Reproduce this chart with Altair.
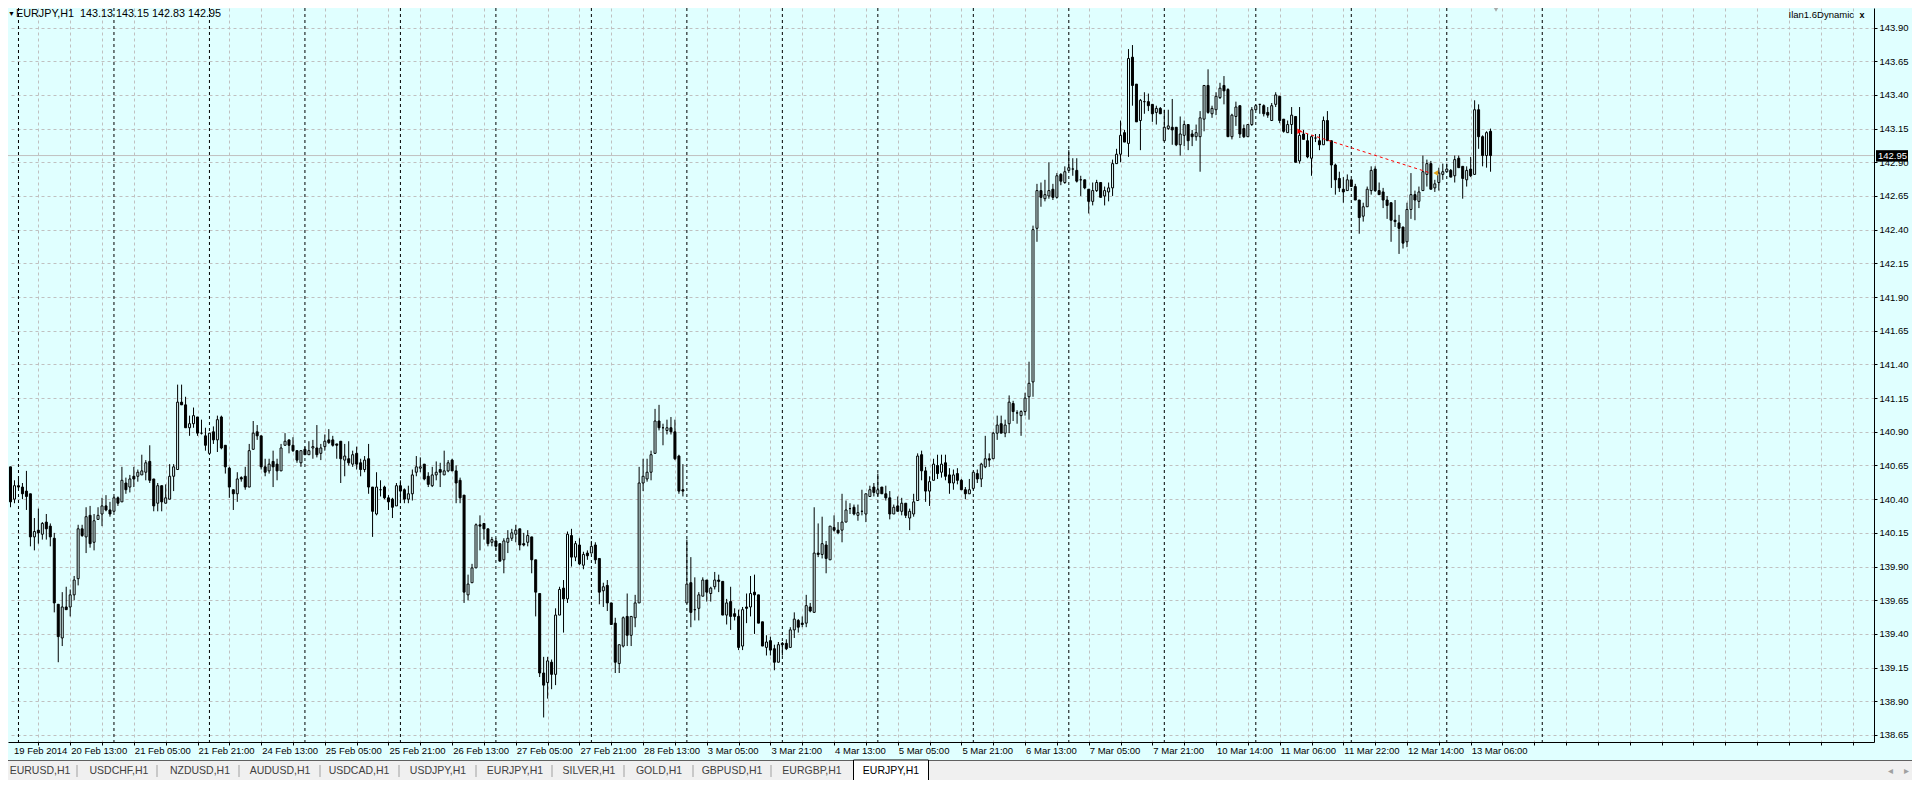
import altair as alt
import pandas as pd

# ---------------- data ----------------
opens = [
140.47,140.64,140.40,140.50,140.49,140.46,140.44,140.12,140.17,140.14,
140.23,140.20,140.11,139.62,139.37,139.60,139.60,139.69,139.81,140.18,
140.12,140.28,140.08,140.25,140.29,140.35,140.32,140.31,140.41,140.38,
140.52,140.49,140.57,140.57,140.58,140.60,140.68,140.55,140.37,140.50,
140.37,140.40,140.57,140.62,141.12,141.10,140.93,140.96,141.01,140.89,
140.87,140.74,140.90,140.84,141.01,140.80,140.63,140.47,140.44,140.56,
140.57,140.49,140.77,140.90,140.87,140.64,140.61,140.68,140.66,140.61,
140.80,140.84,140.80,140.76,140.67,140.77,140.73,140.78,140.78,140.74,
140.79,140.84,140.84,140.81,140.83,140.69,140.70,140.66,140.74,140.67,
140.62,140.70,140.49,140.29,140.47,140.49,140.41,140.40,140.35,140.50,
140.47,140.40,140.44,140.60,140.63,140.66,140.57,140.50,140.58,140.62,
140.58,140.61,140.69,140.61,140.54,140.43,139.69,139.78,139.89,140.21,
140.22,140.18,140.08,140.09,140.07,139.95,140.08,140.11,140.14,140.18,
140.07,140.08,140.12,139.95,139.70,139.11,139.04,139.19,139.10,139.54,
139.74,139.66,140.13,139.97,140.06,139.91,140.00,140.00,140.06,139.96,
139.72,139.76,139.63,139.48,139.18,139.31,139.53,139.39,139.52,139.63,
140.52,140.55,140.60,140.74,140.98,140.93,140.91,140.93,140.90,140.72,
140.47,139.63,139.78,139.58,139.59,139.68,139.80,139.70,139.75,139.80,
139.79,139.54,139.64,139.55,139.53,139.31,139.60,139.60,139.71,139.69,
139.49,139.30,139.35,139.29,139.19,139.33,139.33,139.30,139.43,139.50,
139.48,139.48,139.60,139.56,140.00,139.99,140.06,139.95,140.19,140.17,
140.17,140.23,140.33,140.34,140.28,140.31,140.29,140.42,140.49,140.44,
140.49,140.44,140.41,140.29,140.35,140.31,140.37,140.26,140.29,140.39,
140.73,140.61,140.46,140.54,140.65,140.60,140.67,140.58,140.52,140.59,
140.54,140.47,140.44,140.48,140.59,140.55,140.64,140.70,140.70,140.89,
140.96,140.89,140.96,141.11,141.04,141.02,141.05,141.16,141.27,142.41,
142.69,142.63,142.65,142.70,142.64,142.81,142.75,142.84,142.85,142.84,
142.77,142.77,142.70,142.61,142.69,142.75,142.65,142.68,142.71,142.89,
142.96,143.12,143.04,143.68,143.48,143.21,143.35,143.35,143.33,143.27,
143.30,143.06,143.15,143.16,143.16,143.03,143.10,143.18,143.11,143.09,
143.09,143.22,143.47,143.26,143.29,143.38,143.47,143.44,143.09,143.24,
143.32,143.15,143.09,143.18,143.29,143.33,143.32,143.27,143.21,143.33,
143.39,143.22,143.12,143.18,143.24,142.91,143.11,143.06,142.93,143.08,
143.06,143.03,143.21,143.06,142.88,142.78,142.70,142.69,142.77,142.72,
142.62,142.50,142.57,142.69,142.85,142.69,142.68,142.62,142.60,142.47,
142.45,142.42,142.31,142.55,142.66,142.61,142.69,142.81,142.89,142.71,
142.75,142.81,142.83,142.84,142.80,142.93,142.87,142.77,142.85,142.81,
143.29,143.09,142.95,143.13]

highs = [
140.78,140.64,140.54,140.57,140.52,140.61,140.44,140.26,140.33,140.23,
140.29,140.22,140.15,139.62,139.71,139.75,139.73,139.83,140.21,140.21,
140.34,140.35,140.29,140.34,140.41,140.43,140.38,140.42,140.42,140.64,
140.56,140.58,140.64,140.62,140.73,140.69,140.80,140.55,140.52,140.50,
140.51,140.66,140.66,141.25,141.25,141.16,141.02,141.08,141.01,140.99,
140.93,140.89,140.94,141.02,141.02,140.80,140.64,140.47,140.60,140.57,
140.64,140.81,140.98,140.95,140.87,140.70,140.70,140.76,140.70,140.81,
140.89,140.84,140.86,140.76,140.76,140.79,140.83,140.84,140.95,140.81,
140.88,140.92,140.87,140.81,140.83,140.81,140.83,140.76,140.79,140.70,
140.72,140.81,140.49,140.60,140.54,140.50,140.43,140.41,140.52,140.54,
140.48,140.50,140.62,140.72,140.71,140.66,140.60,140.64,140.68,140.67,
140.76,140.69,140.70,140.65,140.56,140.43,139.84,139.92,140.22,140.28,
140.22,140.18,140.12,140.11,140.07,140.11,140.17,140.18,140.21,140.18,
140.15,140.17,140.12,139.95,139.70,139.23,139.23,139.21,139.59,139.75,
139.80,140.16,140.18,140.09,140.11,140.01,140.02,140.09,140.08,139.96,
139.78,139.80,139.63,139.52,139.32,139.53,139.70,139.53,139.69,140.64,
140.70,140.70,140.76,141.07,141.10,140.96,140.99,141.01,140.99,140.73,
140.66,140.10,139.97,139.82,139.71,139.82,139.80,139.75,139.86,139.84,
139.79,139.66,139.75,139.59,139.58,139.60,139.70,139.83,139.84,139.69,
139.49,139.39,139.38,139.32,139.34,139.34,139.36,139.45,139.56,139.51,
139.53,139.69,139.63,140.34,140.22,140.27,140.09,140.20,140.28,140.23,
140.44,140.39,140.37,140.36,140.36,140.47,140.44,140.50,140.52,140.59,
140.49,140.50,140.46,140.36,140.42,140.41,140.37,140.33,140.44,140.74,
140.76,140.64,140.57,140.70,140.73,140.73,140.73,140.63,140.62,140.63,
140.55,140.49,140.55,140.60,140.62,140.67,140.87,140.74,140.90,141.02,
141.02,140.99,141.17,141.13,141.06,141.06,141.19,141.42,142.43,142.74,
142.75,142.77,142.90,142.74,142.82,142.82,142.87,142.99,142.93,142.93,
142.80,142.77,142.70,142.75,142.77,142.75,142.72,142.75,142.92,143.00,
143.21,143.14,143.74,143.77,143.48,143.37,143.42,143.41,143.33,143.32,
143.31,143.29,143.29,143.37,143.16,143.24,143.21,143.18,143.14,143.18,
143.28,143.47,143.59,143.32,143.42,143.49,143.54,143.45,143.26,143.35,
143.32,143.18,143.18,143.31,143.33,143.33,143.33,143.31,143.34,143.42,
143.39,143.22,143.21,143.31,143.24,143.31,143.14,143.11,143.10,143.11,
143.11,143.24,143.28,143.06,142.89,142.83,142.79,142.81,142.77,142.74,
142.62,142.60,142.72,142.87,142.87,142.75,142.71,142.65,142.60,142.62,
142.51,142.42,142.60,142.82,142.69,142.72,142.95,142.92,142.91,142.77,
142.86,142.89,142.89,142.85,142.95,142.95,142.87,142.87,142.94,143.36,
143.33,143.10,143.13,143.15]

lows = [
140.45,140.34,140.37,140.47,140.40,140.32,140.05,140.02,140.07,140.10,
140.10,140.05,139.56,139.19,139.31,139.58,139.53,139.65,139.76,140.12,
140.00,140.04,140.02,140.25,140.20,140.31,140.27,140.31,140.35,140.38,
140.44,140.45,140.49,140.53,140.58,140.54,140.52,140.31,140.31,140.31,
140.37,140.40,140.46,140.62,141.10,140.93,140.87,140.93,140.87,140.88,
140.76,140.74,140.81,140.75,140.77,140.59,140.41,140.32,140.38,140.53,
140.47,140.49,140.77,140.84,140.62,140.57,140.59,140.49,140.54,140.61,
140.80,140.74,140.75,140.67,140.64,140.73,140.73,140.70,140.71,140.69,
140.76,140.81,140.79,140.70,140.52,140.57,140.65,140.64,140.62,140.57,
140.60,140.44,140.12,140.28,140.42,140.40,140.32,140.26,140.35,140.37,
140.37,140.37,140.39,140.57,140.60,140.54,140.49,140.49,140.54,140.49,
140.58,140.60,140.61,140.37,140.37,139.63,139.65,139.78,139.89,140.02,
140.10,140.05,140.05,140.02,139.94,139.85,140.00,140.09,140.08,140.02,
140.05,140.05,139.85,139.53,139.08,138.78,138.92,138.99,139.02,139.54,
139.41,139.63,139.90,139.94,139.91,139.88,139.95,140.00,139.92,139.62,
139.60,139.57,139.47,139.11,139.11,139.30,139.31,139.31,139.45,139.63,
140.46,140.53,140.54,140.74,140.91,140.80,140.88,140.88,140.69,140.44,
140.42,139.63,139.45,139.50,139.50,139.68,139.64,139.64,139.73,139.71,
139.54,139.47,139.43,139.50,139.28,139.28,139.48,139.53,139.40,139.48,
139.31,139.24,139.24,139.13,139.19,139.24,139.28,139.30,139.37,139.41,
139.45,139.45,139.56,139.56,139.97,139.96,139.85,139.95,140.16,140.14,
140.08,140.23,140.29,140.28,140.24,140.28,140.23,140.42,140.42,140.42,
140.44,140.39,140.25,140.29,140.31,140.28,140.26,140.17,140.27,140.39,
140.54,140.38,140.35,140.54,140.55,140.56,140.54,140.44,140.47,140.51,
140.47,140.40,140.44,140.47,140.52,140.49,140.63,140.64,140.70,140.84,
140.89,140.86,140.89,140.98,140.96,140.87,141.02,140.99,141.16,142.31,
142.57,142.61,142.63,142.62,142.63,142.73,142.74,142.84,142.80,142.75,
142.65,142.70,142.52,142.58,142.68,142.64,142.58,142.61,142.65,142.89,
142.90,143.05,142.94,143.32,143.20,142.99,143.26,143.28,143.20,143.18,
143.26,143.06,143.14,143.03,143.02,142.95,143.02,142.99,143.02,143.06,
142.83,143.13,143.26,143.23,143.25,143.37,143.33,143.09,143.07,143.17,
143.08,143.08,143.09,143.17,143.29,143.26,143.24,143.23,143.21,143.31,
143.19,143.12,143.12,143.11,142.90,142.89,143.07,142.93,142.80,143.05,
142.99,143.03,143.06,142.71,142.66,142.68,142.60,142.69,142.72,142.62,
142.37,142.46,142.57,142.66,142.68,142.66,142.56,142.48,142.31,142.42,
142.22,142.26,142.27,142.48,142.47,142.56,142.69,142.72,142.70,142.68,
142.69,142.77,142.83,142.79,142.75,142.86,142.63,142.72,142.79,142.81,
143.00,142.87,142.86,142.83]

closes = [
140.64,140.38,140.50,140.49,140.44,140.42,140.12,140.16,140.15,140.22,
140.18,140.12,139.63,139.38,139.60,139.58,139.69,139.80,140.18,140.13,
140.27,140.07,140.24,140.28,140.35,140.32,140.29,140.41,140.37,140.54,
140.47,140.55,140.55,140.60,140.61,140.67,140.54,140.35,140.50,140.38,
140.41,140.57,140.64,141.12,141.10,140.93,140.96,141.02,140.89,140.89,
140.80,140.89,140.84,140.99,140.78,140.64,140.49,140.44,140.55,140.55,
140.49,140.76,140.89,140.87,140.64,140.60,140.66,140.64,140.61,140.78,
140.83,140.80,140.76,140.69,140.76,140.73,140.76,140.79,140.73,140.78,
140.83,140.82,140.80,140.80,140.70,140.72,140.67,140.73,140.66,140.62,
140.69,140.49,140.31,140.49,140.47,140.41,140.38,140.34,140.50,140.46,
140.40,140.44,140.58,140.64,140.64,140.55,140.51,140.58,140.60,140.60,
140.61,140.67,140.61,140.52,140.41,139.71,139.77,139.89,140.21,140.20,
140.18,140.07,140.10,140.05,139.94,140.09,140.11,140.15,140.17,140.06,
140.06,140.13,139.95,139.71,139.11,139.02,139.20,139.10,139.54,139.73,
139.66,140.14,139.97,140.07,139.92,139.99,139.98,140.05,139.95,139.71,
139.75,139.63,139.47,139.19,139.32,139.52,139.39,139.53,139.63,140.52,
140.57,140.60,140.73,140.98,140.93,140.93,140.93,140.90,140.70,140.46,
140.46,139.77,139.56,139.58,139.69,139.80,139.71,139.74,139.80,139.79,
139.54,139.63,139.53,139.53,139.30,139.58,139.59,139.70,139.69,139.48,
139.31,139.34,139.28,139.19,139.32,139.32,139.29,139.43,139.51,139.45,
139.47,139.61,139.57,140.00,139.99,140.07,139.96,140.20,140.17,140.15,
140.23,140.32,140.33,140.29,140.30,140.31,140.44,140.47,140.45,140.47,
140.44,140.41,140.29,140.34,140.31,140.37,140.28,140.31,140.38,140.72,
140.61,140.46,140.53,140.66,140.59,140.66,140.57,140.52,140.58,140.54,
140.47,140.44,140.47,140.60,140.55,140.66,140.70,140.69,140.89,140.95,
140.89,140.95,141.12,141.05,141.04,141.05,141.15,141.26,142.40,142.69,
142.64,142.66,142.69,142.64,142.80,142.76,142.83,142.86,142.85,142.76,
142.77,142.71,142.61,142.69,142.75,142.64,142.69,142.71,142.89,142.96,
143.10,143.05,143.67,143.47,143.20,143.36,143.35,143.32,143.26,143.30,
143.26,143.16,143.17,143.14,143.03,143.11,143.18,143.06,143.09,143.12,
143.23,143.47,143.27,143.30,143.39,143.45,143.43,143.09,143.25,143.31,
143.11,143.09,143.18,143.29,143.32,143.33,143.26,143.25,143.32,143.40,
143.21,143.13,143.18,143.25,142.90,143.10,143.07,142.94,143.09,143.08,
143.03,143.21,143.06,142.88,142.77,142.71,142.68,142.77,142.72,142.62,
142.49,142.57,142.70,142.84,142.69,142.66,142.62,142.58,142.47,142.46,
142.41,142.30,142.55,142.66,142.62,142.68,142.83,142.89,142.70,142.74,
142.82,142.83,142.85,142.79,142.92,142.86,142.78,142.84,142.80,143.29,
143.09,142.95,143.12,142.95]

# time labels, one every 16 hourly bars
time_labels = ["19 Feb 2014", "20 Feb 13:00", "21 Feb 05:00", "21 Feb 21:00",
               "24 Feb 13:00", "25 Feb 05:00", "25 Feb 21:00", "26 Feb 13:00",
               "27 Feb 05:00", "27 Feb 21:00", "28 Feb 13:00", "3 Mar 05:00",
               "3 Mar 21:00", "4 Mar 13:00", "5 Mar 05:00", "5 Mar 21:00",
               "6 Mar 13:00", "7 Mar 05:00", "7 Mar 21:00", "10 Mar 14:00",
               "11 Mar 06:00", "11 Mar 22:00", "12 Mar 14:00", "13 Mar 06:00"]
# bar index of each day start (period separators)
day_starts = [3, 27, 51, 75, 99, 123, 147, 171, 195, 219, 243, 267, 291, 314, 338, 362, 386]
price_ticks = [143.90, 143.65, 143.40, 143.15, 142.90, 142.65, 142.40, 142.15,
               141.90, 141.65, 141.40, 141.15, 140.90, 140.65, 140.40, 140.15,
               139.90, 139.65, 139.40, 139.15, 138.90, 138.65]
bid_price = [142.95]
trend_bar = [325.05, 357.95]
trend_price = [143.13, 142.82]
tabs = ["EURUSD,H1", "USDCHF,H1", "NZDUSD,H1", "AUDUSD,H1", "USDCAD,H1",
        "USDJPY,H1", "EURJPY,H1", "SILVER,H1", "GOLD,H1", "GBPUSD,H1", "EURGBP,H1"]
active_tab = "EURJPY,H1"
header = "EURJPY,H1\u00a0 143.13 143.15 142.83 142.95"

# ---------------- layout / style ----------------
BG = "#E0FFFF"
GRID = "#C0C0C0"
FONT = "Liberation Sans, Arial, sans-serif"
FS = 9.5
W, H = 1866, 734
X0, X1 = 1.625, 468.125
Y0, Y1 = 138.598, 144.045
tab_centers = [32, 111, 192, 272, 351, 430, 507, 581, 651, 724, 804]
tab_seps = [69, 149, 231, 312, 391, 468, 544, 616, 685, 763]

n = len(opens)
assert len(highs) == n and len(lows) == n and len(closes) == n
df = pd.DataFrame({"i": list(range(n)), "o": opens, "h": highs, "l": lows, "c": closes})
df["lo"] = df[["o", "c"]].min(axis=1)
df["hi"] = df[["o", "c"]].max(axis=1)
df["h"] = df[["h", "hi"]].max(axis=1)
df["l"] = df[["l", "lo"]].min(axis=1)
df["bull"] = df["c"] >= df["o"]

xs = alt.Scale(domain=[X0, X1], nice=False, zero=False)
ys = alt.Scale(domain=[Y0, Y1], nice=False, zero=False)

x_axis = alt.Axis(values=list(range(8, 465, 8)), labels=False, grid=True, gridColor=GRID,
                  gridDash=[3, 3], gridWidth=1, tickColor="black", tickSize=3,
                  domainColor="black", domainWidth=1, title=None, orient="bottom")
y_axis = alt.Axis(values=price_ticks, orient="right", format=".2f", grid=True, gridColor=GRID,
                  gridDash=[3, 3], gridWidth=1, tickColor="black", tickSize=3,
                  domainColor="black", domainWidth=1, labelFont=FONT, labelFontSize=FS,
                  labelColor="black", labelPadding=2, title=None, labelOverlap=False,
                  labelBound=False, labelFlush=False)


def X(f):
    return alt.X(f, type="quantitative", scale=xs, axis=x_axis, title=None)


def Y(f):
    return alt.Y(f, type="quantitative", scale=ys, axis=y_axis, title=None)


# period separators
sep_df = pd.DataFrame({"s": day_starts})
seps = alt.Chart(sep_df).mark_rule(color="black", strokeWidth=1, strokeDash=[3, 3], clip=True).encode(
    x=X("s"))

# bid line
bid_df = pd.DataFrame({"p": bid_price, "lbl": ["%.2f" % bid_price[0]]})
bid_line = alt.Chart(bid_df).mark_rule(color=GRID, strokeWidth=1).encode(y=Y("p"))

wicks = alt.Chart(df).mark_rule(color="black", strokeWidth=1, clip=True).encode(
    x=X("i"), y=Y("l"), y2="h:Q")

bodies = alt.Chart(df).mark_bar(size=2, stroke="black", strokeWidth=1, clip=True).encode(
    x=X("i"), y=Y("lo"), y2="hi:Q",
    fill=alt.condition("datum.bull", alt.value(BG), alt.value("black")))

# trend line & markers
tr_df = pd.DataFrame({"b": trend_bar, "p": trend_price})
trend = alt.Chart(tr_df).mark_line(color="red", strokeWidth=1, strokeDash=[3, 3], clip=True).encode(
    x=X("b"), y=Y("p"))
start_mark = alt.Chart(tr_df.iloc[[0]]).mark_point(shape="triangle-right", filled=True, color="red",
                                                   size=30, opacity=1).encode(x=X("b"), y=Y("p"))
end_mark = alt.Chart(tr_df.iloc[[1]]).mark_point(shape="triangle-left", filled=True, color="#E0A020",
                                                 size=30, opacity=1, xOffset=5).encode(x=X("b"), y=Y("p"))

# x labels as text
lab_df = pd.DataFrame({"idx": [16 * k for k in range(len(time_labels))], "txt": time_labels})
lab_df["lx"] = lab_df["idx"].clip(lower=X0)
xlabels = alt.Chart(lab_df).mark_text(align="left", baseline="middle", font=FONT, fontSize=FS,
                                      color="black", dx=1).encode(
    x=X("lx"), y=alt.value(H + 9), text="txt:N")

# bid label box
bid_box = alt.Chart(bid_df).transform_calculate(t="datum.p + 0.04", b="datum.p - 0.045").mark_rect(
    color="black").encode(
    x=alt.value(W + 2), x2=alt.value(W + 34), y=Y("t"), y2="b:Q")
bid_text = alt.Chart(bid_df).mark_text(color="white", align="left", baseline="middle", font=FONT,
                                       fontSize=FS).encode(
    x=alt.value(W + 4), y=Y("p"), text="lbl:N")

# header texts
one = pd.DataFrame({"t": [header]})
head = alt.Chart(one).mark_text(align="left", baseline="middle", font=FONT, fontSize=10.8,
                                color="black").encode(x=alt.value(8), y=alt.value(6), text="t:N")
tri = alt.Chart(pd.DataFrame({"t": ["\u25BC"]})).mark_text(align="left", baseline="middle",
                                                            fontSize=7, color="black").encode(
    x=alt.value(0), y=alt.value(6), text="t:N")
ea = alt.Chart(pd.DataFrame({"t": ["Ilan1.6Dynamic"]})).mark_text(
    align="right", baseline="middle", font=FONT, fontSize=FS, color="black").encode(
    x=alt.value(1846), y=alt.value(7), text="t:N")
ea_icon = alt.Chart(pd.DataFrame({"t": ["x"]})).mark_text(
    align="center", baseline="middle", font=FONT, fontSize=9, fontWeight="bold", color="black").encode(
    x=alt.value(1854), y=alt.value(7), text="t:N")
shift_mark = alt.Chart(pd.DataFrame({"t": [1]})).mark_point(
    shape="triangle-down", filled=True, color="#A8A8A8", size=40, opacity=1).encode(
    x=alt.value(1488), y=alt.value(1))

# tab bar
tab_bg = alt.Chart(pd.DataFrame({"t": [1]})).mark_rect(color="#F0F0F0").encode(
    x=alt.value(-10), x2=alt.value(W + 40), y=alt.value(752), y2=alt.value(776))
tab_line = alt.Chart(pd.DataFrame({"t": [1]})).mark_rule(color="#606060", strokeWidth=1).encode(
    x=alt.value(-10), x2=alt.value(W + 40), y=alt.value(752.5))
act_box = alt.Chart(pd.DataFrame({"t": [1]})).mark_rect(fill="white", stroke="black",
                                                        strokeWidth=1).encode(
    x=alt.value(845.5), x2=alt.value(920.5), y=alt.value(752), y2=alt.value(773.5))
tab_df = pd.DataFrame({"name": tabs, "px": tab_centers})
tab_text = alt.Chart(tab_df).mark_text(align="center", baseline="middle", font=FONT, fontSize=10.5,
                                       color="#404040").encode(
    x=alt.X("px:Q", scale=None), y=alt.value(763), text="name:N")
sep_tab_df = pd.DataFrame({"px": tab_seps})
tab_seps_m = alt.Chart(sep_tab_df).mark_rule(color="#A0A0A0").encode(
    x=alt.X("px:Q", scale=None), y=alt.value(757), y2=alt.value(769))
act_text = alt.Chart(pd.DataFrame({"name": [active_tab]})).mark_text(
    align="center", baseline="middle", font=FONT, fontSize=10.5, color="black").encode(
    x=alt.value(883), y=alt.value(763), text="name:N")
arrows = alt.Chart(pd.DataFrame({"t": ["\u25C2", "\u25B8"], "px": [1882, 1898]})).mark_text(
    align="center", baseline="middle", fontSize=10, color="#A0A0A0").encode(
    x=alt.X("px:Q", scale=None), y=alt.value(763), text="t:N")

chart = alt.layer(
    seps, bid_line, wicks, bodies, trend, start_mark, end_mark, xlabels, bid_box, bid_text,
    head, tri, ea, ea_icon, shift_mark, tab_bg, tab_line, tab_seps_m, tab_text, act_box, act_text, arrows
).properties(
    width=W, height=H, background=BG,
    padding={"left": 0, "top": 0, "right": 38, "bottom": 38},
    autosize=alt.AutoSizeParams(type="none")
).configure_view(stroke=None, fill=BG)

chart.save("out.html", embed_options={"renderer": "svg", "actions": False})
